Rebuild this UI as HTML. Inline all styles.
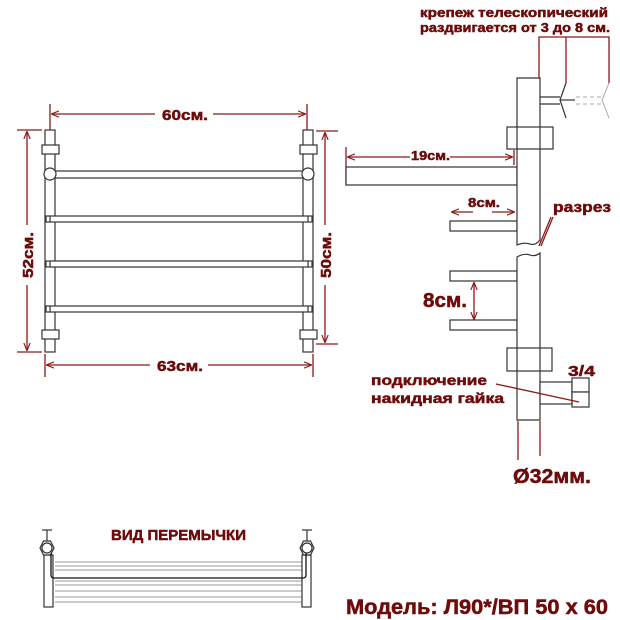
<!DOCTYPE html>
<html><head><meta charset="utf-8"><style>
html,body{margin:0;padding:0;background:#fff;}
svg{display:block;}
text{font-family:"Liberation Sans","DejaVu Sans",sans-serif;font-weight:bold;fill:#6e0a0a;stroke:#6e0a0a;stroke-width:0.5;}
</style></head><body>
<svg width="620" height="620" viewBox="0 0 620 620" xmlns="http://www.w3.org/2000/svg">
<defs>
<marker id="a" viewBox="0 0 10 10" refX="9" refY="5" markerWidth="6" markerHeight="6" orient="auto-start-reverse"><path d="M0,1 L10,5 L0,9" fill="none" stroke="#8b1a1a" stroke-width="1.5"/></marker>
</defs>
<g stroke="#8b1a1a" stroke-width="1.3" fill="none">
<line x1="50" y1="104" x2="50" y2="130"/><line x1="307" y1="104" x2="307" y2="130"/>
<line x1="52" y1="114" x2="155" y2="114" marker-start="url(#a)"/><line x1="213" y1="114" x2="305" y2="114" marker-end="url(#a)"/>
<line x1="45" y1="354" x2="45" y2="377"/><line x1="313" y1="354" x2="313" y2="377"/>
<line x1="47" y1="365" x2="150" y2="365" marker-start="url(#a)"/><line x1="208" y1="365" x2="311" y2="365" marker-end="url(#a)"/>
<line x1="17" y1="130" x2="42" y2="130"/><line x1="17" y1="352" x2="42" y2="352"/>
<line x1="27" y1="132" x2="27" y2="225" marker-start="url(#a)"/><line x1="27" y1="285" x2="27" y2="350" marker-end="url(#a)"/>
<line x1="316" y1="131" x2="338" y2="131"/><line x1="316" y1="344" x2="338" y2="344"/>
<line x1="325" y1="133" x2="325" y2="225" marker-start="url(#a)"/><line x1="325" y1="285" x2="325" y2="342" marker-end="url(#a)"/>
</g>
<g stroke="#333" stroke-width="1.2" fill="#fff">
<rect x="45" y="130" width="10" height="222"/><rect x="303" y="130" width="10" height="222"/>
<rect x="42" y="145" width="17" height="9"/><rect x="300" y="145" width="17" height="9"/>
<rect x="42" y="330" width="17" height="9"/><rect x="300" y="330" width="17" height="9"/>
<rect x="50" y="171" width="258" height="7"/>
<circle cx="50" cy="174" r="6"/><circle cx="308" cy="174" r="6"/>
<rect x="46" y="216" width="266" height="6"/><rect x="46" y="261" width="266" height="6"/><rect x="46" y="306" width="266" height="6"/>
<line x1="50" y1="216" x2="50" y2="222"/><line x1="308" y1="216" x2="308" y2="222"/>
<line x1="50" y1="261" x2="50" y2="267"/><line x1="308" y1="261" x2="308" y2="267"/>
<line x1="50" y1="306" x2="50" y2="312"/><line x1="308" y1="306" x2="308" y2="312"/>
</g>
<text x="162" y="120" font-size="15" textLength="46" lengthAdjust="spacingAndGlyphs">60см.</text>
<text x="157" y="371" font-size="15" textLength="46" lengthAdjust="spacingAndGlyphs">63см.</text>
<text transform="translate(33,278) rotate(-90)" font-size="15" textLength="46" lengthAdjust="spacingAndGlyphs">52см.</text>
<text transform="translate(331,278) rotate(-90)" font-size="15" textLength="46" lengthAdjust="spacingAndGlyphs">50см.</text>

<g stroke="#8b1a1a" stroke-width="1.3" fill="none">
<polyline points="539,78 539,37 609,37 609,83"/><line x1="566" y1="37" x2="566" y2="83"/>
<line x1="346" y1="147" x2="346" y2="185"/><line x1="514" y1="150" x2="514" y2="165"/>
<line x1="348" y1="157" x2="410" y2="157" marker-start="url(#a)"/><line x1="450" y1="157" x2="512" y2="157" marker-end="url(#a)"/>
<line x1="452" y1="212" x2="473" y2="212" marker-start="url(#a)"/><line x1="492" y1="212" x2="514" y2="212" marker-end="url(#a)"/>
<line x1="474" y1="283" x2="474" y2="319" marker-start="url(#a)" marker-end="url(#a)"/>
<line x1="518" y1="421" x2="518" y2="460"/><line x1="540" y1="421" x2="540" y2="456"/>
</g>
<g stroke="#333" stroke-width="1.2" fill="#fff">
<rect x="346" y="167" width="171" height="18"/>
<rect x="450" y="221" width="67" height="10"/>
<rect x="450" y="271" width="67" height="10"/>
<rect x="450" y="320" width="67" height="10"/>
<path d="M517,78 L540,78 L540,240 Q535,246 530,244 Q524,242 517,245 Z"/>
<path d="M517,257 Q524,253 530,255 Q535,257 540,253 L540,420 L517,420 Z"/>
<rect x="507" y="127" width="46" height="22" fill="none"/>
<rect x="507" y="348" width="45" height="23" fill="none"/>
<rect x="540" y="382" width="32" height="22"/>
<rect x="572" y="378" width="17" height="14"/><rect x="572" y="392" width="17" height="15"/>
<line x1="540" y1="97" x2="560" y2="97"/><line x1="540" y1="104" x2="560" y2="104"/>
<polyline points="566,83 560,100 566,118" fill="none"/><line x1="560" y1="100" x2="575" y2="100"/>
</g>
<g stroke="#8b1a1a" stroke-width="1.3" fill="none">
<line x1="551" y1="217" x2="539" y2="246"/><line x1="553" y1="217" x2="541" y2="246"/>
<line x1="496" y1="384" x2="579" y2="402"/>
</g>
<g stroke="#aaa" stroke-width="1" fill="none">
<line x1="576" y1="97" x2="602" y2="97" stroke-dasharray="4,3"/><line x1="576" y1="104" x2="602" y2="104" stroke-dasharray="4,3"/>
<polyline points="609,83 602,100 609,118"/>
</g>
<text x="420" y="17" font-size="13" textLength="188" lengthAdjust="spacingAndGlyphs">крепеж телескопический</text>
<text x="420" y="32" font-size="13" textLength="190" lengthAdjust="spacingAndGlyphs">раздвигается от 3 до 8 см.</text>
<text x="411" y="160" font-size="13" textLength="39" lengthAdjust="spacingAndGlyphs">19см.</text>
<text x="468" y="207" font-size="13" textLength="32" lengthAdjust="spacingAndGlyphs">8см.</text>
<text x="553" y="212" font-size="15" textLength="58" lengthAdjust="spacingAndGlyphs">разрез</text>
<text x="423" y="307" font-size="20" textLength="44" lengthAdjust="spacingAndGlyphs">8см.</text>
<text x="568" y="376" font-size="15" textLength="27" lengthAdjust="spacingAndGlyphs">3/4</text>
<text x="371" y="385" font-size="14" textLength="116" lengthAdjust="spacingAndGlyphs">подключение</text>
<text x="371" y="403" font-size="14" textLength="133" lengthAdjust="spacingAndGlyphs">накидная гайка</text>
<text x="513" y="483" font-size="20" textLength="78" lengthAdjust="spacingAndGlyphs">Ø32мм.</text>

<g stroke="#999" stroke-width="1">
<line x1="55" y1="562" x2="303" y2="562"/><line x1="55" y1="566" x2="303" y2="566"/><line x1="55" y1="570" x2="303" y2="570"/>
<line x1="55" y1="581" x2="303" y2="581"/><line x1="55" y1="585" x2="303" y2="585"/><line x1="55" y1="591" x2="303" y2="591"/>
<line x1="55" y1="597" x2="303" y2="597"/><line x1="55" y1="602" x2="303" y2="602"/>
</g>
<g stroke="#333" stroke-width="1.2" fill="#fff">
<rect x="44" y="555" width="9" height="52"/><rect x="302" y="555" width="9" height="52"/>
<polygon points="40,548 43.5,541 50.5,541 54,548 50.5,555 43.5,555"/><circle cx="47" cy="548" r="5"/>
<polygon points="300,548 303.5,541 310.5,541 314,548 310.5,555 303.5,555"/><circle cx="307" cy="548" r="5"/>
<line x1="42" y1="530" x2="52" y2="530"/><line x1="47" y1="530" x2="47" y2="541"/>
<line x1="302" y1="530" x2="312" y2="530"/><line x1="307" y1="530" x2="307" y2="541"/>
</g>
<g stroke="#111" stroke-width="1.3" fill="none">
<path d="M51,553 L51,575 Q51,578 54,578 L303,578 Q306,578 306,575 L306,553"/>
</g>
<text x="111" y="540" font-size="15" textLength="135" lengthAdjust="spacingAndGlyphs">ВИД ПЕРЕМЫЧКИ</text>
<text x="346" y="614" font-size="21" textLength="262" lengthAdjust="spacingAndGlyphs">Модель: Л90*/ВП 50 х 60</text>
</svg>
</body></html>
